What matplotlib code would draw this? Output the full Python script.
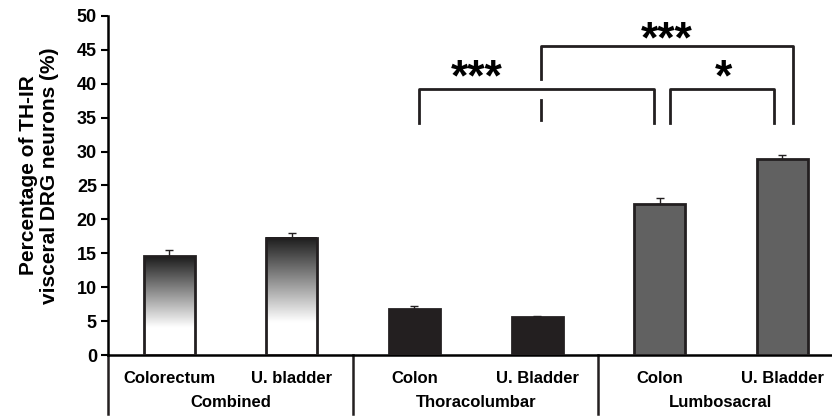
import numpy as np
import matplotlib
matplotlib.use('Agg')
import matplotlib.pyplot as plt
from matplotlib.colors import LinearSegmentedColormap
import matplotlib.transforms as mtransforms

plt.rcParams['font.family'] = ['Liberation Sans', 'DejaVu Sans']
plt.rcParams['font.weight'] = 'bold'
plt.rcParams['axes.labelweight'] = 'bold'

# data
categories = ['Colorectum', 'U. bladder', 'Colon', 'U. Bladder', 'Colon', 'U. Bladder']
groups = ['Combined', 'Thoracolumbar', 'Lumbosacral']
values = [14.6, 17.3, 6.8, 5.6, 22.3, 28.9]
errors = [0.9, 0.75, 0.4, 0.1, 0.9, 0.6]
yticks = [0, 5, 10, 15, 20, 25, 30, 35, 40, 45, 50]

fig = plt.figure(figsize=(8.32, 4.19), dpi=100)
ax = fig.add_axes([108/832, 1-355/419, 1-108/832, (355-16)/419])

x = np.arange(len(values)) + 0.5
w = 0.415

# gradient for the "combined" bars: dark at top, white in lower third
cmap = LinearSegmentedColormap.from_list('g', [(0, 'white'), (0.28, 'white'), (1, '#1c1c1c')])
grad = np.linspace(0, 1, 256).reshape(-1, 1)
for i in range(2):
    ax.imshow(grad, extent=[x[i]-w/2, x[i]+w/2, 0, values[i]], origin='lower',
              aspect='auto', cmap=cmap, zorder=2)

colors = ['none', 'none', '#231f20', '#231f20', '#616161', '#616161']
ax.bar(x, values, w, color=colors, edgecolor='#231f20', linewidth=2, zorder=3)
ax.errorbar(x, values, yerr=[[0]*6, errors], fmt='none', ecolor='#231f20',
            elinewidth=1, capsize=3, capthick=1, zorder=2)

ax.set_xlim(0, (832-108)/122.6)
ax.set_ylim(0, 50)
ax.set_yticks(yticks)
ax.set_xticks([])
ax.tick_params(axis='y', direction='out', length=5, width=1.5, labelsize=13, pad=3)
for s in ['top', 'right']:
    ax.spines[s].set_visible(False)
ax.spines['left'].set_linewidth(1.8)
ax.spines['bottom'].set_linewidth(1.8)

# lower category axis
trans = mtransforms.blended_transform_factory(ax.transData, ax.transAxes)
ylow = -(414-355)/339
for xs in [0, 2, 4]:
    ax.plot([xs, xs], [0, ylow], transform=trans, color='#231f20', lw=1.8, clip_on=False)
for i, c in enumerate(categories):
    ax.text(x[i], -(378-355)/339, c, transform=trans, ha='center', va='center', fontsize=12)
for i, g in enumerate(groups):
    ax.text(2*i+1, -(402-355)/339, g, transform=trans, ha='center', va='center', fontsize=12)

ax.set_ylabel('Percentage of TH-IR\nvisceral DRG neurons (%)', fontsize=15, linespacing=1.1)
ax.yaxis.set_label_coords(-0.068, 0.53)

# significance brackets
lk = dict(color='#231f20', lw=2, clip_on=False)
ax.plot([2.54, 2.54, 4.45, 4.45], [34.2, 39.2, 39.2, 34.2], **lk)
ax.plot([3.53, 3.53], [34.7, 37.6], **lk)
ax.plot([3.53, 3.53, 5.59, 5.59], [40.7, 45.6, 45.6, 34.2], **lk)
ax.plot([4.58, 4.58, 5.43, 5.43], [34.2, 39.2, 39.2, 34.2], **lk)
ax.text(3.01, 40.7, '***', ha='center', va='center', fontsize=32)
ax.text(4.56, 46.4, '***', ha='center', va='center', fontsize=32)
ax.text(5.02, 40.7, '*', ha='center', va='center', fontsize=32)

fig.savefig('out.png', dpi=100)
